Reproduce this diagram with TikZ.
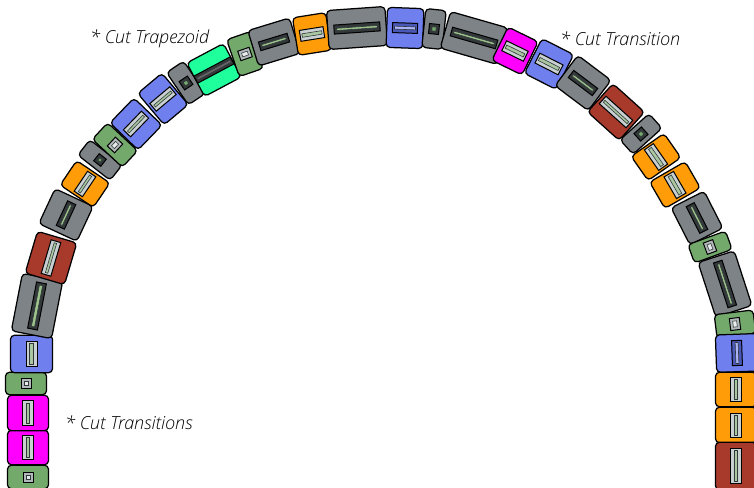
\documentclass[tikz,border=0pt]{standalone}
\usepackage{fontspec}
\setmainfont{Open Sans Light}[ItalicFont={Open Sans Light Italic}]
\definecolor{cgray}{HTML}{7D8386}
\definecolor{cblue}{HTML}{6F80EE}
\definecolor{corange}{HTML}{FF9C08}
\definecolor{cmag}{HTML}{FF00FF}
\definecolor{cgreen}{HTML}{74A96C}
\definecolor{cred}{HTML}{A83A2C}
\definecolor{cmint}{HTML}{1FFF9C}
\definecolor{cframe}{HTML}{C8D0D2}
\definecolor{cdark}{HTML}{33383A}
\definecolor{cslit}{HTML}{9CC48C}
\definecolor{cdblue}{HTML}{4A58B8}
\tikzset{
  x=1pt,y=1pt,
  segbox/.style={draw=black,line width=1.25pt,rounded corners=4pt,inner sep=0pt,outer sep=0pt},
  apbox/.style={draw=black,line width=1pt,inner sep=0pt,outer sep=0pt},
  slitbox/.style={draw=cdark,line width=0.6pt,inner sep=0pt,outer sep=0pt},
  note/.style={font=\fontsize{18}{22}\selectfont\itshape,text=black,inner sep=0pt,anchor=west},
}
% \seg{name}{x}{y}{rot}{L}{W}{colour}{ap l}{ap w}
\newcommand{\seg}[9]{%
  \pgfmathsetmacro{\ol}{#5+1.5}\pgfmathsetmacro{\ow}{#6+1}%
  \node[segbox,fill=#7,minimum width=\ol pt,minimum height=\ow pt,rotate=#4] (#1) at (#2,487-#3) {};%
  \node[apbox,fill=\apframe,minimum width=#8pt,minimum height=#9pt,rotate=#4] (#1a) at (#2,487-#3) {};%
  \pgfmathsetmacro{\il}{#8-\apinl}\pgfmathsetmacro{\iw}{#9-\apinw}%
  \node[slitbox,fill=\apslit,minimum width=\il pt,minimum height=\iw pt,rotate=#4] (#1b) at (#2,487-#3) {};%
}
\newcommand{\lightap}{\def\apframe{cframe}\def\apslit{cslit!70!cframe}\def\apinl{4}\def\apinw{7.5}}
\newcommand{\darkap}{\def\apframe{cdark}\def\apslit{cslit}\def\apinl{5}\def\apinw{6.8}}
\newcommand{\blueap}{\def\apframe{cdblue}\def\apslit{cblue!60!white}\def\apinl{4}\def\apinw{7}}
\newcommand{\smallap}{\def\apframe{cframe!70!cgray}\def\apslit{cframe!40!white}\def\apinl{6}\def\apinw{6}}
\newcommand{\spotap}{\def\apframe{cdark}\def\apslit{cgreen}\def\apinl{6}\def\apinw{6}}
\newcommand{\trapap}{\def\apframe{cdark}\def\apslit{black!60}\def\apinl{3}\def\apinw{5.5}}
\begin{document}
\begin{tikzpicture}
\useasboundingbox (0,0) rectangle (754,487);
\clip (0,0) rectangle (754,487);
\smallap\seg{s1}{28}{477}{90}{22}{40}{cgreen}{10}{10}
\lightap\seg{s2}{28}{447.5}{90}{33}{40}{cmag}{24}{11}
\lightap\seg{s3}{28}{413}{90}{34}{40}{cmag}{24}{11}
\smallap\seg{s4}{26}{383.5}{90}{21}{40}{cgreen}{10}{10}
\lightap\seg{s5}{31.5}{354}{90}{36}{41}{cblue}{25}{11}
\darkap\seg{s6}{37}{306}{79}{57}{40}{cgray}{47}{10}
\lightap\seg{s7}{51}{258}{73.5}{42}{40}{cred}{35}{10}
\darkap\seg{s8}{66}{215}{65}{37}{41}{cgray}{27}{9}
\lightap\seg{s9}{85}{184}{56}{28}{39}{corange}{24}{10}
\spotap\seg{s10}{100}{160}{52}{18}{40}{cgray}{9}{9}
\smallap\seg{s11}{115}{145}{47}{21}{40}{cgreen}{12}{10}
\lightap\seg{s12}{136}{124}{46}{33}{38}{cblue}{26}{10}
\lightap\seg{s13}{163}{99}{40}{30}{40}{cblue}{26}{10}
\spotap\seg{s14}{186}{83}{34}{19}{38}{cgray}{10}{10}
\trapap\seg{s15}{214}{70}{28}{40}{37}{cmint}{41}{8}
\smallap\seg{s16}{245}{54}{19}{24}{38}{cgreen}{12}{10}
\darkap\seg{s17}{274}{42}{17}{42}{36}{cgray}{30}{9}
\lightap\seg{s18}{312}{34}{9}{32}{37}{corange}{24}{11}
\darkap\seg{s19}{357}{28}{4}{57}{38}{cgray}{46}{9}
\blueap\seg{s20}{405}{28}{-2}{35}{39}{cblue}{25}{10}
\spotap\seg{s21}{434}{29}{-6}{19}{38}{cgray}{10}{10}
\darkap\seg{s22}{474}{38}{-16}{58}{37}{cgray}{47}{9}
\lightap\seg{s23}{515}{51}{-26}{32}{36}{cmag}{24}{11}
\lightap\seg{s24}{549}{64}{-27}{34}{38}{cblue}{26}{11}
\darkap\seg{s25}{583}{83}{-37}{40}{37}{cgray}{30}{9}
\lightap\seg{s26}{616}{112}{-42}{41}{37}{cred}{36}{10}
\spotap\seg{s27}{641}{134}{-48}{18}{38}{cgray}{10}{10}
\lightap\seg{s28}{656}{157}{-55}{28}{39}{corange}{25}{11}
\lightap\seg{s29}{675}{185}{-60}{29}{40}{corange}{25}{11}
\darkap\seg{s30}{697}{218}{-63}{40}{36}{cgray}{30}{9}
\smallap\seg{s31}{710}{247}{-70}{18}{39}{cgreen}{12}{10}
\darkap\seg{s32}{725}{284}{-72}{56}{37}{cgray}{47}{9}
\smallap\seg{s33}{735}{324}{-83}{22}{38}{cgreen}{12}{10}
\blueap\seg{s34}{737}{353}{-88}{36}{41}{cblue}{25}{10}
\lightap\seg{s35}{736}{389.5}{-90}{33}{40}{corange}{24}{11}
\lightap\seg{s36}{736}{425}{-90}{34}{40}{corange}{24}{11}
\lightap\seg{s37}{736}{466}{-90}{46}{40}{cred}{35}{11}
\node[note] (n1) at (90,448) {* Cut Trapezoid};
\node[note] (n2) at (560,448) {* Cut Transition};
\node[note] (n3) at (65,64) {* Cut Transitions};
\end{tikzpicture}
\end{document}
